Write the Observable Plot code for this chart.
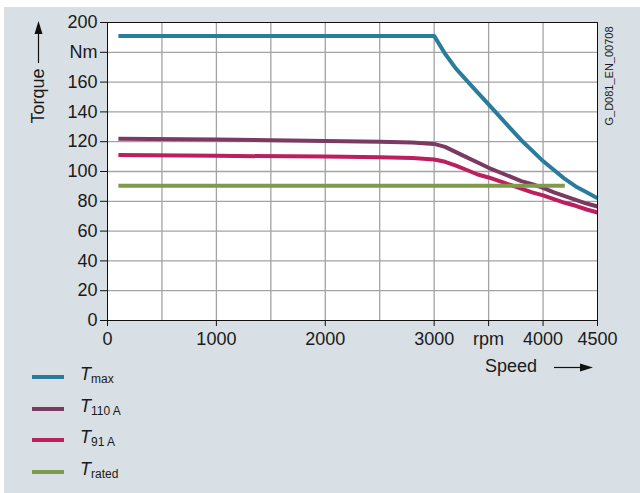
<!DOCTYPE html>
<html>
<head>
<meta charset="utf-8">
<script src="https://cdn.jsdelivr.net/npm/d3@7"></script>
<script src="https://cdn.jsdelivr.net/npm/@observablehq/plot@0.6"></script>
<style>
  html, body { margin: 0; padding: 0; background: #ffffff; }
  body { width: 640px; height: 493px; overflow: hidden; font-family: "Liberation Sans", Arial, sans-serif; }
  #panel { position: absolute; left: 4px; top: 7px; width: 636px; height: 486px; background: #d8e0e5; }
  #chart { position: absolute; left: 0; top: 0; }
  .ann { position: absolute; font-size: 18px; color: #1a1a1a; white-space: nowrap; }
  .legend { position: absolute; left: 28px; top: 361px; }
  .item { position: relative; height: 31.5px; }
  .swatch { position: absolute; left: 0; top: 7px; width: 32px; height: 4px; }
  .lab { position: absolute; left: 48px; top: -4px; font-size: 18px; color: #1a1a1a; white-space: nowrap; }
  .lab i { font-style: italic; }
  .lab sub { font-size: 12px; vertical-align: -3px; }
</style>
</head>
<body>
<div id="panel">
  <div id="chart"></div>
</div>
<script>
// ---- data ----
const seriesNames = ["Tmax", "T110A", "T91A", "Trated"];
const seriesColors = ["#2a7c9d", "#7a3a62", "#bc1f5d", "#7f9a4b"];

const speedTmax  = [100, 3000, 3100, 3200, 3300, 3400, 3500, 3600, 3700, 3800, 3900, 4000, 4100, 4200, 4300, 4400, 4500];
const torqueTmax = [191, 191, 179, 169, 161, 153, 145, 137, 129, 121, 114, 107, 101, 95, 90, 86, 82];

const speedT110  = [100, 1000, 2000, 2500, 2800, 3000, 3100, 3200, 3300, 3400, 3500, 3600, 3700, 3800, 3900, 4000, 4100, 4200, 4300, 4400, 4500];
const torqueT110 = [122, 121.5, 120.5, 120, 119.5, 118.5, 116.5, 113, 109.5, 106, 102.5, 99.5, 96.5, 93.5, 91.5, 89, 86, 83.5, 81, 78.5, 76.5];

const speedT91   = [100, 1000, 2000, 2500, 2800, 3000, 3100, 3200, 3300, 3400, 3500, 3600, 3700, 3800, 3900, 4000, 4100, 4200, 4300, 4400, 4500];
const torqueT91  = [111, 110.5, 110, 109.5, 109, 108, 106.5, 104, 101, 98, 96, 93.5, 91, 88.5, 86, 84, 81.5, 79, 77, 74.5, 72.5];

const speedTrated  = [100, 4200];
const torqueTrated = [90.5, 90.5];

const xTicks = [0, 1000, 2000, 3000, 3500, 4000, 4500];
const xTickLabels = ["0", "1000", "2000", "3000", "rpm", "4000", "4500"];
const yTicks = [0, 20, 40, 60, 80, 100, 120, 140, 160, 180, 200];
const yTickLabels = ["0", "20", "40", "60", "80", "100", "120", "140", "160", "Nm", "200"];
const xGrid = [500, 1000, 1500, 2000, 2500, 3000, 3500, 4000];
const yGrid = [20, 40, 60, 80, 100, 120, 140, 160, 180];

// ---- build table ----
const table = [];
[[speedTmax, torqueTmax, "Tmax"], [speedT110, torqueT110, "T110A"], [speedT91, torqueT91, "T91A"], [speedTrated, torqueTrated, "Trated"]]
  .forEach(([xs, ys, name]) => xs.forEach((x, i) => table.push({speed: x, torque: ys[i], series: name})));

const chart = Plot.plot({
  width: 636,
  height: 370,
  marginLeft: 103,
  marginRight: 43,
  marginTop: 15,
  marginBottom: 57,
  style: { fontFamily: "Liberation Sans, Arial, sans-serif", fontSize: "18px", background: "transparent", color: "#1a1a1a", overflow: "visible" },
  x: { domain: [0, 4500] },
  y: { domain: [0, 200] },
  color: { domain: seriesNames, range: seriesColors },
  marks: [
    Plot.frame({ fill: "white", stroke: "none" }),
    Plot.ruleX(xGrid, { stroke: "#a3a3a3", strokeWidth: 1.3 }),
    Plot.ruleY(yGrid, { stroke: "#a3a3a3", strokeWidth: 1.3 }),
    Plot.line(table, { x: "speed", y: "torque", z: "series", stroke: "series", strokeWidth: 4, strokeLinejoin: "round", strokeLinecap: "butt" }),
    Plot.frame({ stroke: "#111", strokeWidth: 1 }),
    Plot.axisX({ ticks: xTicks, tickFormat: (d) => xTickLabels[xTicks.indexOf(d)], tickSize: 6, tickPadding: 6, label: null, stroke: "#111" }),
    Plot.axisY({ ticks: yTicks, tickFormat: (d) => yTickLabels[yTicks.indexOf(d)], tickSize: 7, tickPadding: 3, label: null, stroke: "#111" })
  ]
});
document.getElementById("chart").appendChild(chart);

// ---- annotations ----
const panel = document.getElementById("panel");

// Torque label with upward arrow
const torque = document.createElement("div");
torque.className = "ann";
torque.textContent = "Torque";
torque.style.left = "34px";
torque.style.top = "89px";
torque.style.transform = "translate(-50%, -50%) rotate(-90deg)";
panel.appendChild(torque);

// Speed label
const speed = document.createElement("div");
speed.className = "ann";
speed.textContent = "Speed";
speed.style.left = "481px";
speed.style.top = "349px";
panel.appendChild(speed);

// Right vertical code
const code = document.createElement("div");
code.className = "ann";
code.textContent = "G_D081_EN_00708";
code.style.fontSize = "11px";
code.style.left = "605px";
code.style.top = "69px";
code.style.transform = "translate(-50%, -50%) rotate(-90deg)";
panel.appendChild(code);

// arrows
const svgNS = "http://www.w3.org/2000/svg";
const arrows = document.createElementNS(svgNS, "svg");
arrows.setAttribute("width", "636");
arrows.setAttribute("height", "486");
arrows.style.position = "absolute";
arrows.style.left = "0";
arrows.style.top = "0";
arrows.style.pointerEvents = "none";
arrows.innerHTML = `
  <line x1="34.5" y1="56" x2="34.5" y2="26" stroke="#111" stroke-width="1.2"/>
  <path d="M30.5 27 L34.5 14 L38.5 27 Z" fill="#111"/>
  <line x1="550" y1="360.5" x2="578" y2="360.5" stroke="#111" stroke-width="1.2"/>
  <path d="M576 356.5 L589 360.5 L576 364.5 Z" fill="#111"/>
`;
panel.appendChild(arrows);

// legend
const legend = document.createElement("div");
legend.className = "legend";
const subs = ["max", "110 A", "91 A", "rated"];
seriesNames.forEach((name, i) => {
  const item = document.createElement("div");
  item.className = "item";
  item.innerHTML = `<div class="swatch" style="background:${seriesColors[i]}"></div><div class="lab"><i>T</i><sub>${subs[i]}</sub></div>`;
  legend.appendChild(item);
});
panel.appendChild(legend);
</script>
</body>
</html>
